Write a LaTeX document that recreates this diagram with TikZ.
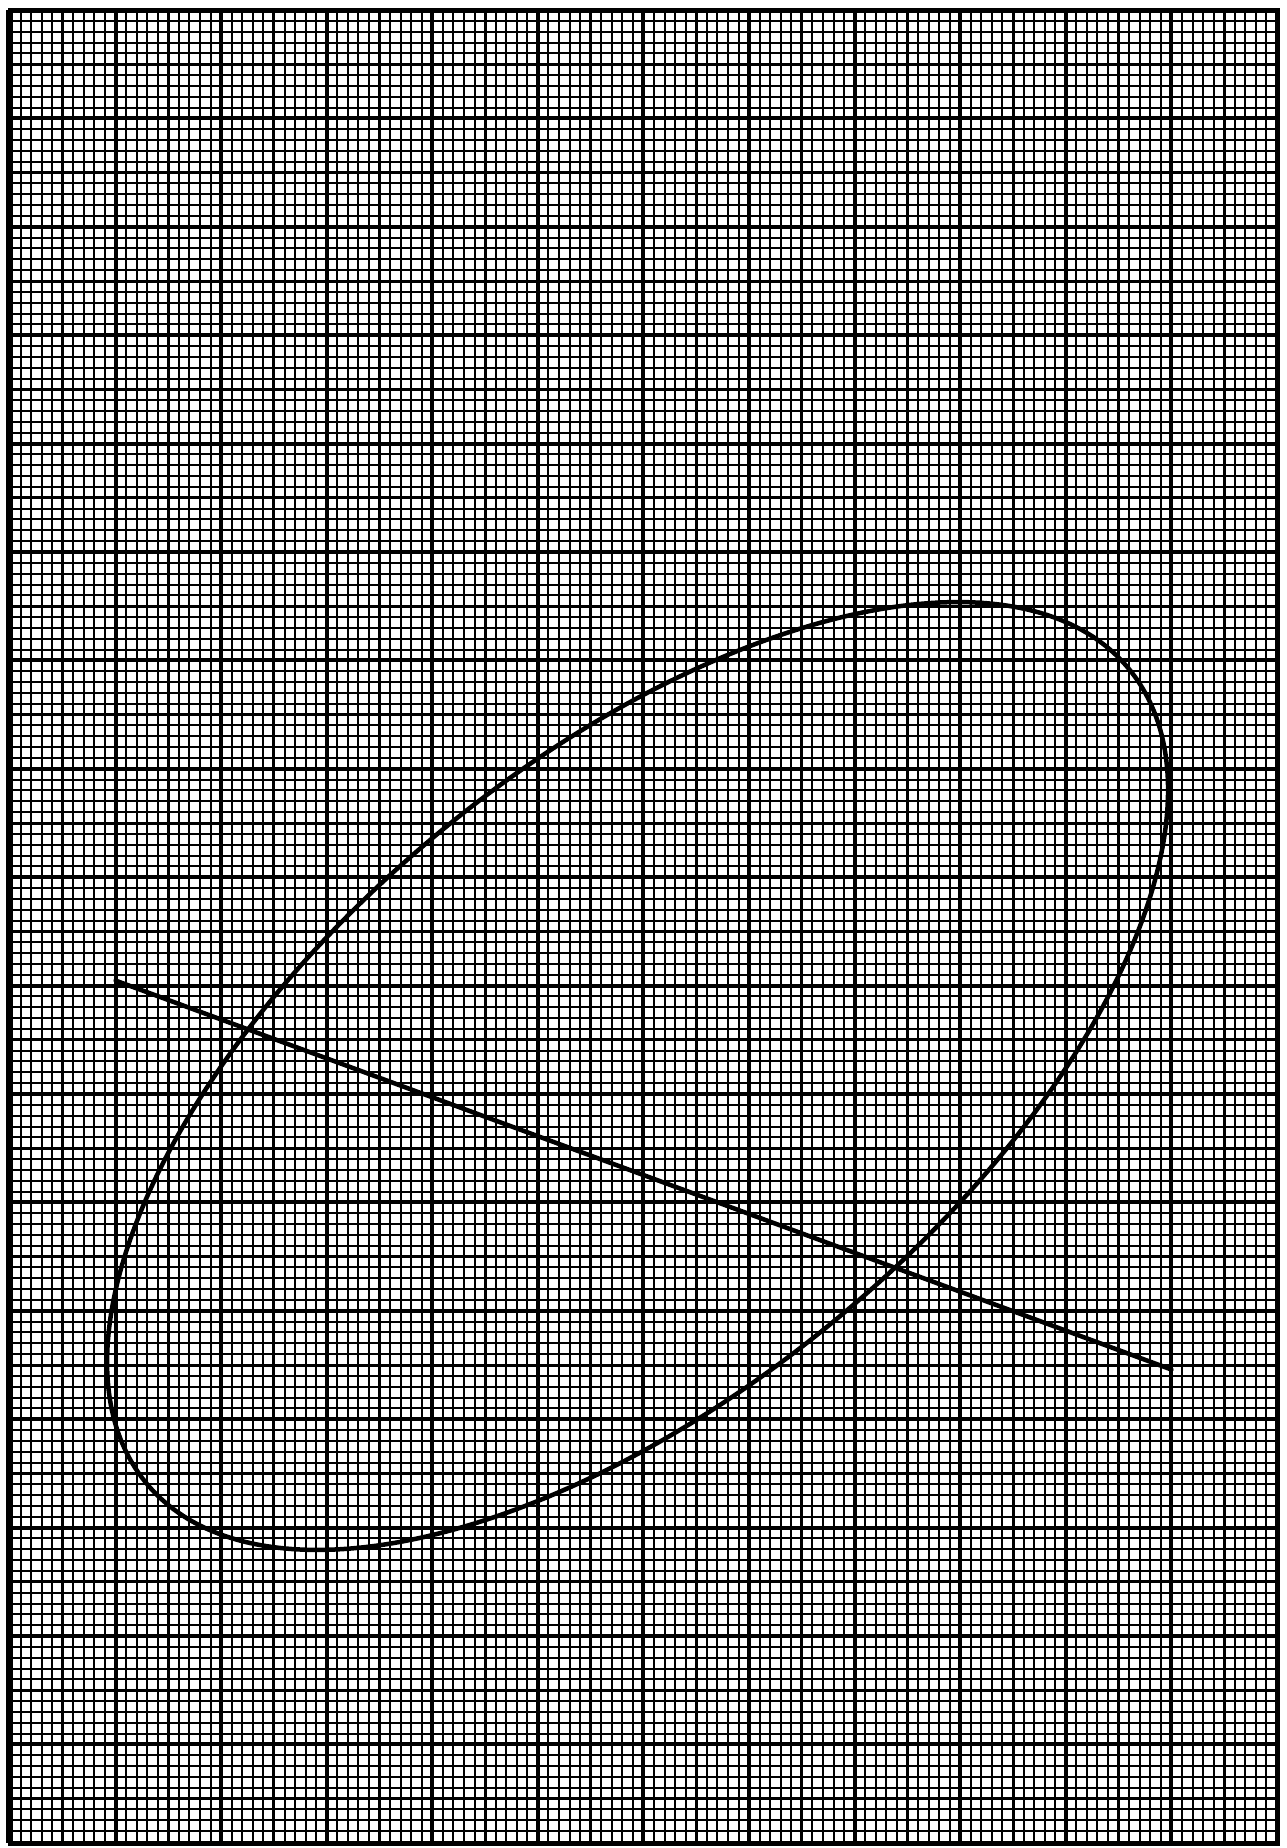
\documentclass[tikz,border=0pt]{standalone}
\begin{document}
\begin{tikzpicture}[x=1pt,y=-1pt,
  minorline/.style={line width=2pt, black},
  fiveline/.style={line width=3pt, black},
  tenline/.style={line width=4pt, black},
  frameline/.style={line width=5pt, black},
  curve/.style={line width=4.5pt, black, line cap=round}]
\useasboundingbox (0,0) rectangle (1287,1848);
\fill[white] (0,0) rectangle (1287,1848);
% vertical grid lines
\foreach \j in {1,...,119}{
  \draw[minorline] ({10+\j*10.558},10) -- ({10+\j*10.558},1843);
}
\foreach \j in {5,15,...,115}{
  \draw[fiveline] ({10+\j*10.558},10) -- ({10+\j*10.558},1843);
}
\foreach \j in {10,20,...,110}{
  \draw[tenline] ({10+\j*10.558},10) -- ({10+\j*10.558},1843);
}
% horizontal grid lines
\foreach \k in {1,...,168}{
  \draw[minorline] (10,{10+\k*10.84}) -- (1277,{10+\k*10.84});
}
\foreach \k in {5,15,...,165}{
  \draw[fiveline] (10,{10+\k*10.84}) -- (1277,{10+\k*10.84});
}
\foreach \k in {10,20,...,160}{
  \draw[tenline] (10,{10+\k*10.84}) -- (1277,{10+\k*10.84});
}
% frame
\draw[frameline] (10,10) rectangle (1277,1843);
\draw[line width=4pt] (8,10) -- (8,1843);
% ellipse
\coordinate (C) at (637.6,1076);
\draw[curve, rotate around={39.7:(C)}] (C) ellipse [x radius=638.1, y radius=314.1];
% line
\coordinate (L1) at (115.6,980.6);
\coordinate (L2) at (1171.4,1369.5);
\draw[curve] (L1) -- (L2);
\end{tikzpicture}
\end{document}
